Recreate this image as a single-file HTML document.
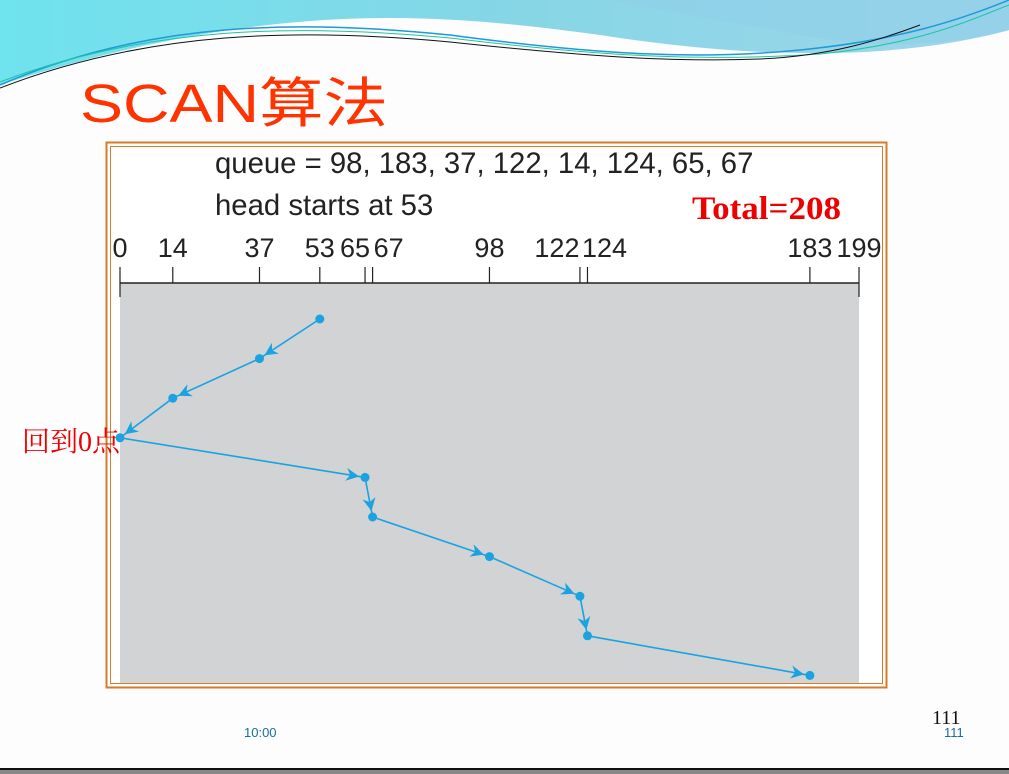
<!DOCTYPE html>
<html><head><meta charset="utf-8">
<style>
body{margin:0;width:1009px;height:774px;overflow:hidden;background:#fdfdfd;font-family:"Liberation Sans","Noto Sans CJK SC",sans-serif;}
svg{position:absolute;left:0;top:0;}
</style></head>
<body>
<svg id="s" width="1009" height="774" viewBox="0 0 1009 774">
  <defs>
    <linearGradient id="wave" x1="0" y1="0" x2="1" y2="0">
      <stop offset="0" stop-color="#6fe3ee"/><stop offset="0.5" stop-color="#85d6e6"/><stop offset="1" stop-color="#9fd6ea"/>
    </linearGradient>
    <marker id="ah" viewBox="0 0 10 10" refX="10" refY="5" markerWidth="15" markerHeight="13" markerUnits="userSpaceOnUse" orient="auto">
      <path d="M0,0 L10,5 L0,10 L3,5 Z" fill="#1aa3e0"/>
    </marker>
  </defs>
  <g>
    <path d="M0,0 L1009,0 L1009,30 C900,60 760,60 600,35 C450,15 280,-5 0,85 Z" fill="url(#wave)"/>
    <path d="M610,0 L1009,0 L1009,30 C960,45 880,50 800,35 C720,20 660,10 610,0 Z" fill="#8fcfe9" opacity="0.6"/>
    <path d="M0,85 C150,20 300,20 450,35 C600,55 700,60 800,50 C900,40 960,20 1009,0" fill="none" stroke="#1f9ad6" stroke-width="1.5"/>
    <path d="M0,82 C150,25 300,24 450,38 C600,56 700,62 820,54 C920,44 970,20 1009,5" fill="none" stroke="#1fc4a6" stroke-width="1"/>
    <path d="M0,88 C150,30 300,28 450,42 C600,58 680,62 760,59 C830,56 880,40 920,25" fill="none" stroke="#111" stroke-width="1"/>
  </g>
  <text x="80" y="122" font-size="54" textLength="308" lengthAdjust="spacingAndGlyphs" fill="#ff3300" font-family="'Liberation Sans Narrow','Liberation Sans','Noto Sans CJK SC',sans-serif">SCAN算法</text>
  <g>
    <rect x="106.5" y="142.5" width="780" height="545" fill="#fff" stroke="#d77a2a" stroke-width="2"/>
    <rect x="110.5" y="146.5" width="772" height="537" fill="#fff" stroke="#d77a2a" stroke-width="1"/>
  </g>
  <text x="215" y="173" font-size="29.3" fill="#222">queue = 98, 183, 37, 122, 14, 124, 65, 67</text>
  <text x="215" y="215" font-size="29.3" fill="#222">head starts at 53</text>
  <text x="692" y="219" font-size="33" textLength="149" lengthAdjust="spacingAndGlyphs" font-weight="bold" fill="#ee0000" font-family="'Liberation Serif',serif">Total=208</text>
  <rect x="120" y="283" width="739" height="400" fill="#d1d3d4"/>
  <g id="axis"></g>
  <g id="path"></g>
  <text x="22" y="451" font-size="28" fill="#ee0000" font-family="'Liberation Serif','Noto Serif CJK SC',serif">回到0点</text>
  <text x="932" y="724" font-size="20" fill="#111" font-family="'Liberation Serif',serif">111</text>
  <text x="244" y="737" font-size="13" fill="#1a6e9a">10:00</text>
  <text x="944" y="737" font-size="13" fill="#1a6e9a">111</text>
  <rect x="0" y="768" width="1009" height="2" fill="#111"/>
  <rect x="0" y="770" width="1009" height="4" fill="#888"/>
</svg>
<script>
const tickValues = [0, 14, 37, 53, 65, 67, 98, 122, 124, 183, 199];
const tickLabels = ["0", "14", "37", "53", "65", "67", "98", "122", "124", "183", "199"];
const visitOrder = [53, 37, 14, 0, 65, 67, 98, 122, 124, 183];
const labelNudge = [0, 0, 0, 0, -10, 16, 0, -23, 17, 0, 0];

const NS = "http://www.w3.org/2000/svg";
const X0 = 120, XEND = 859, DMAX = 199, K = 3.77;
function x(v){ return Math.min(X0 + v * K, XEND); }
function y(i){ return 319 + i * 39.6; }
function mk(tag, attrs, parent){
  const e = document.createElementNS(NS, tag);
  for (const k in attrs) e.setAttribute(k, attrs[k]);
  parent.appendChild(e);
  return e;
}
const axis = document.getElementById('axis');
const base = mk('line', {x1: x(0), x2: x(DMAX), y1: 283, y2: 283, stroke: '#222', 'stroke-width': 1.5}, axis);


tickValues.forEach((v, i) => {
  const end = (v === 0 || v === DMAX);
  const t = mk('line', {x1: x(v), x2: x(v), y1: 267, y2: end ? 297 : 283, stroke: '#222', 'stroke-width': 1.2}, axis);
  
  
  const lab = mk('text', {x: x(v) + labelNudge[i], y: 257, 'font-size': 27, fill: '#222', 'text-anchor': 'middle'}, axis);
  lab.textContent = tickLabels[i];
  
  
});
const pg = document.getElementById('path');
for (let i = 1; i < visitOrder.length; i++){
  const ax = x(visitOrder[i-1]), ay = y(i-1), bx = x(visitOrder[i]), by = y(i);
  const seg = mk('line', {x1: ax, y1: ay, x2: bx, y2: by, stroke: '#1aa3e0', 'stroke-width': 1.6}, pg);
  
  
  const len = Math.hypot(bx - ax, by - ay), f = (len - 6) / len;
  const ar = mk('line', {x1: ax, y1: ay, x2: ax + (bx - ax) * f, y2: ay + (by - ay) * f, stroke: 'rgba(0,0,0,0)', 'marker-end': 'url(#ah)', 'stroke-width': 1}, pg);
  
  
}
visitOrder.forEach((v, i) => {
  const c = mk('circle', {cx: x(v), cy: y(i), r: 4.5, fill: '#1aa3e0'}, pg);
  
  
});
</script>
</body></html>
